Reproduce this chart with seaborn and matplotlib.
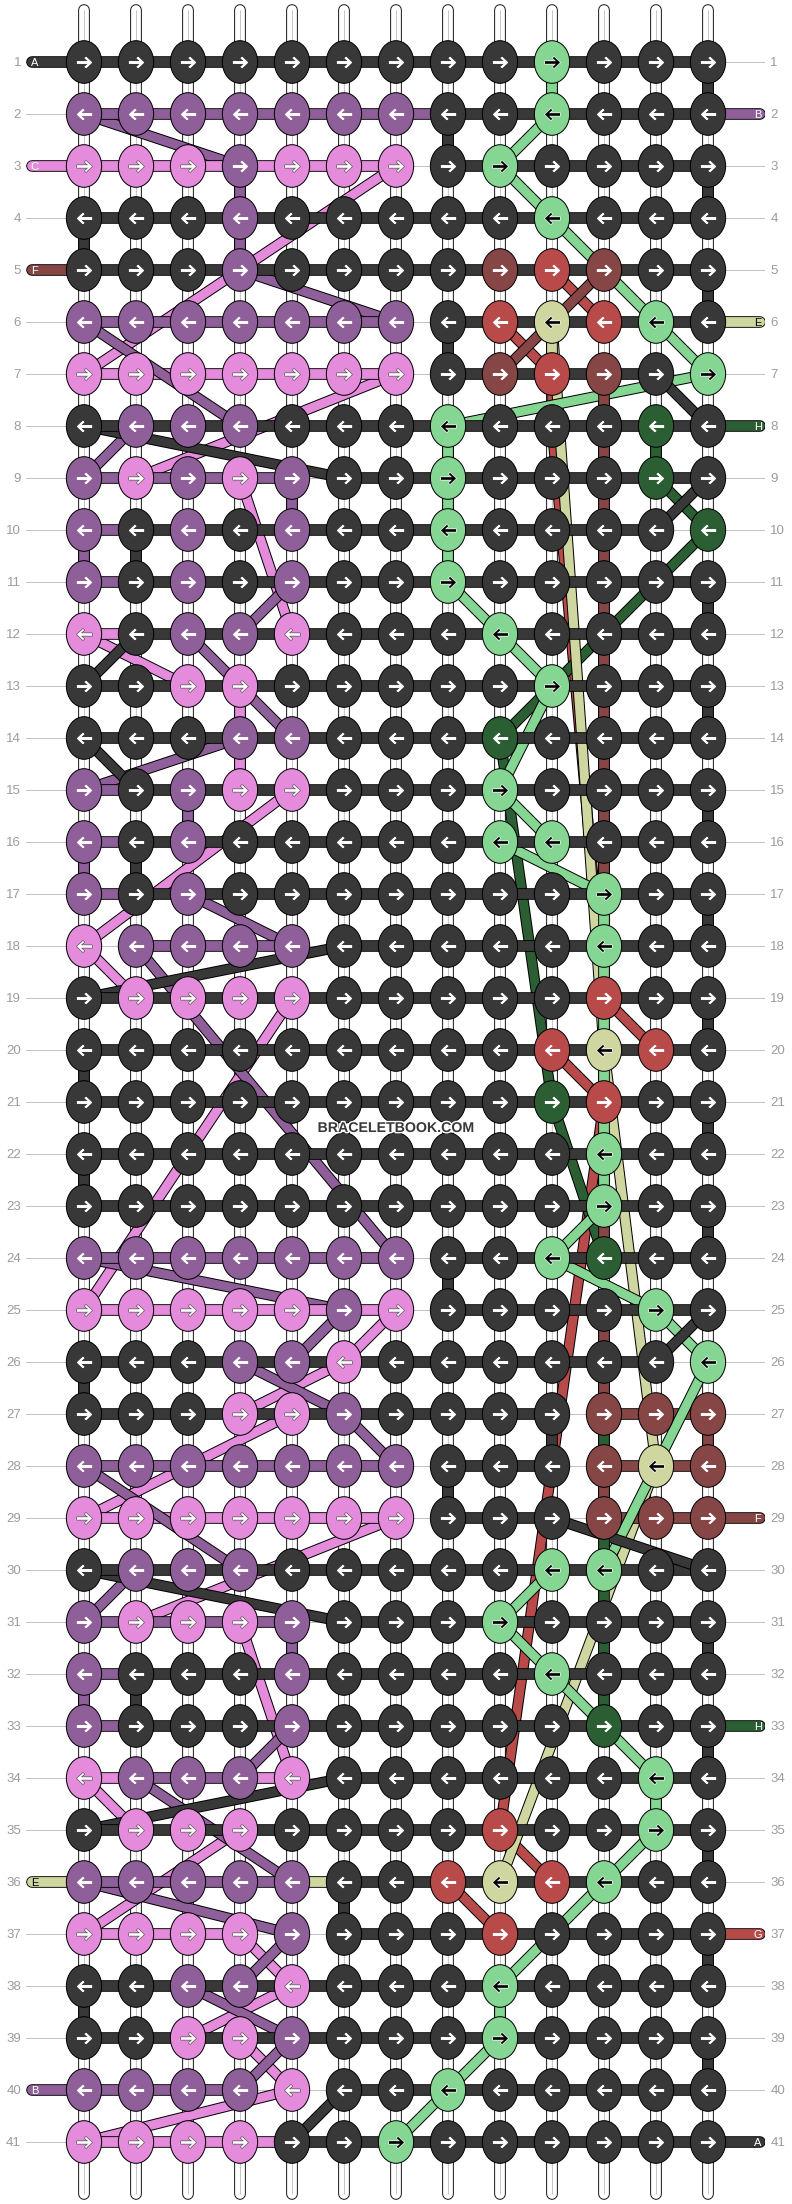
import matplotlib
matplotlib.use("Agg")
import matplotlib.pyplot as plt
import matplotlib.patheffects as pe
from matplotlib.path import Path
from matplotlib.transforms import Affine2D
import numpy as np
import pandas as pd
import seaborn as sns

# ---------- data ----------
colours = {".": "#383838", "P": "#8f5f99", "C": "#e58bdb", "F": "#874646",
           "R": "#b84a4a", "K": "#d0d6a0", "L": "#86d693", "H": "#2b5f33"}
row_numbers = list(range(1, 42))
node_rows = [
    ".........L...", "PPPPPPP..L...", "CCCPCCC.L....", "...P.....L...", "...P....FRF..",
    "PPPPPPP.RKRL.", "CCCCCCC.FRF.L", ".PPP...L...H.", "PCPCP..L...H.", "P.P.P..L....H",
    "P.P.P..L.....", "C.PPC...L....", "..CC.....L...", "...PP...H....", "P.PCC...L....",
    "P.P.....LL...", "P.P.......L..", "CPPPP.....L..", ".CCCC.....R..", ".........RKR.",
    ".........HR..", "..........L..", "..........L..", "PPPPPPP..LH..", "CCCCCPC....L.",
    "...PPC......L", "...CCP....FFF", "PPPPPPP...FKF", "CCCCCCC...FFF", ".PPP.....LL..",
    "PCCCP...L....", "P...P....L...", "P...P.....H..", "CPPPC......L.", ".CCC....R..L.",
    "PPPPP..RKRL..", "CCCCP...R....", "..PPC...L....", "..CCP...L....", "PPPPC..L.....",
    "CCCC..L......",
]
D12 = "............"
link_rows = [
    D12, "PPPPPPP.....", "CCCCCC_.....", D12, D12,
    "PPPPPP_.....", "CCCCCC_...._", D12, "PPPP_.......", "P.........._",
    "P...........", "C...........", D12, D12, "P...........",
    "P...........", "P...........", "_PPP_.......", D12, D12,
    D12, D12, D12, "PPPPPP_.....", "CCCCCC_.....",
    "..........._", "........._FF", "PPPPPP_.._FF", "CCCCCC_.._FF", D12,
    "PPPP_.......", "P...........", "P...........", "CPPC_.......", D12,
    "PPPPK.......", "CCC__.......", D12, D12, "PPP__.......",
    "CCCC........",
]
left_ends = [(1, "A", "."), (3, "C", "C"), (5, "F", "F"), (36, "E", "K"), (40, "B", "P")]
right_ends = [(2, "B", "P"), (6, "E", "K"), (8, "H", "H"), (29, "F", "F"),
              (33, "H", "H"), (37, "G", "R"), (41, "A", ".")]
vertical_links = {
    ".": [(12, 1), (7, 2), (12, 3), (0, 4), (12, 5), (7, 6), (1, 10), (12, 11), (12, 13),
          (12, 15), (1, 16), (12, 17), (12, 19), (0, 20), (12, 21), (0, 22),
          (12, 23), (7, 24), (0, 26), (9, 27), (7, 28), (12, 31), (1, 32), (12, 33),
          (12, 35), (5, 36), (12, 37), (0, 38), (12, 39)],
    "P": [(3, 3), (3, 4), (4, 9), (0, 10), (2, 15), (0, 16), (4, 31), (0, 32)],
    "C": [(3, 13), (3, 14)],
    "F": [(10, 7), (10, 8), (10, 9), (10, 10), (10, 11), (10, 12), (10, 13), (10, 14),
          (10, 15), (10, 16), (10, 23), (10, 25), (10, 26), (12, 27), (10, 28)],
    "K": [(9, 6)],
    "L": [(9, 1), (7, 8), (7, 9), (7, 10), (10, 17), (10, 18), (10, 19), (10, 20),
          (10, 21), (10, 22), (11, 34), (8, 38)],
    "H": [(11, 8), (10, 27), (10, 29), (10, 30), (10, 31), (10, 32)],
}
threads_red = [[(9, 5), (10, 6)], [(8, 6), (9, 7)], [(9, 7), (9, 8), (10, 19)], [(10, 19), (11, 20)],
               [(9, 20), (10, 21)], [(10, 21), (8, 35)], [(8, 35), (9, 36)], [(7, 36), (8, 37)]]
threads_brown = [[(10, 5), (8, 7)]]
threads_darkgreen = [[(11, 9), (12, 10)], [(12, 10), (8, 14)], [(8, 14), (9, 21)], [(9, 21), (10, 24)]]
threads_khaki = [[(9, 6), (10, 20)], [(10, 20), (11, 28)], [(11, 28), (8, 36)]]
threads_light = [[(9, 2), (8, 3)], [(8, 3), (9, 4)], [(9, 4), (11, 6)], [(11, 6), (12, 7)], [(12, 7), (7, 8)],
                 [(7, 11), (8, 12)], [(8, 12), (9, 13)], [(9, 13), (8, 15)], [(8, 15), (9, 16)],
                 [(8, 16), (10, 17)], [(10, 23), (9, 24)], [(9, 24), (11, 25)], [(11, 25), (12, 26)],
                 [(9, 30), (8, 31)], [(8, 31), (11, 34)], [(11, 35), (10, 36)],
                 [(10, 36), (8, 38)], [(8, 39), (6, 41)]]
threads_pink = [[(6, 3), (0, 7)], [(6, 7), (1, 9)], [(3, 9), (4, 12)], [(0, 12), (2, 13)], [(4, 15), (0, 18)],
                [(0, 18), (1, 19)], [(4, 19), (0, 25)], [(6, 25), (5, 26)], [(5, 26), (3, 27)], [(4, 27), (0, 29)],
                [(6, 29), (1, 31)], [(3, 31), (4, 34)], [(0, 34), (1, 35)], [(3, 35), (0, 37)], [(3, 37), (4, 38)],
                [(4, 38), (2, 39)], [(3, 39), (4, 40)], [(4, 40), (0, 41)]]
threads_purple = [[(0, 2), (3, 3)], [(3, 5), (6, 6)], [(1, 8), (0, 9)], [(4, 11), (3, 12)],
                  [(2, 12), (4, 14)], [(3, 14), (0, 15)], [(2, 17), (4, 18)], [(1, 18), (6, 24)], [(0, 24), (5, 25)],
                  [(5, 25), (4, 26)], [(3, 26), (5, 27)], [(5, 27), (6, 28)], [(1, 30), (0, 31)],
                  [(4, 33), (3, 34)], [(1, 34), (4, 36)], [(0, 36), (4, 37)], [(4, 37), (3, 38)], [(2, 38), (4, 39)],
                  [(4, 39), (3, 40)]]
threads_dark = [[(0, 8), (5, 9)], [(1, 12), (0, 13)], [(0, 14), (1, 15)], [(0, 19), (5, 18)], [(0, 30), (5, 31)],
                [(0, 35), (5, 34)], [(4, 41), (5, 40)], [(11, 7), (12, 8)], [(12, 9), (11, 10)], [(12, 25), (11, 26)]]
thread_groups = [("R", threads_red), ("H", threads_darkgreen), ("K", threads_khaki), ("F", threads_brown),
                 ("L", threads_light), ("C", threads_pink), ("P", threads_purple), (".", threads_dark)]
# threads that pass over the horizontal links
threads_over_purple = [[(0, 6), (3, 8)], [(0, 28), (3, 30)]]
threads_over_light = [[(12, 26), (10, 30)]]
threads_over_dark = [[(9, 29), (12, 30)]]
watermark = "BRACELETBOOK.COM"

# ---------- figure ----------
sns.set_theme(style="white")
plt.rcParams["font.family"] = ["Liberation Sans", "DejaVu Sans"]
PX = 0.72
W, H = 792, 2204
fig = plt.figure(figsize=(W / 100, H / 100), dpi=100, facecolor="white")
ax = fig.add_axes([26 / W, 0, (765 - 26) / W, 1])
ax.set_xlim((26 - 84) / 52, (765 - 84) / 52)
ax.set_ylim(1 + (H - 62) / 52, 1 - 62 / 52)
ax.set_facecolor("white")
label_grey = "#9c9c9c"
ax.set_yticks(row_numbers)
ax.set_xticks([])
ax.tick_params(axis="y", length=0, pad=5 * PX, labelsize=9.5, labelcolor=label_grey)
ax.grid(axis="y", color="#c4c4c4", linewidth=1 * PX)
ax.set_axisbelow(True)
ax2 = ax.twinx()
ax2.set_ylim(ax.get_ylim())
ax2.set_yticks(row_numbers)
ax2.grid(False)
ax2.tick_params(axis="y", length=0, pad=5.4 * PX, labelsize=9.5, labelcolor=label_grey)
for a in (ax, ax2):
    for s in a.spines.values():
        s.set_visible(False)


def frame(paths):
    rows = []
    for i, (code, pts) in enumerate(paths):
        for c, r in pts:
            rows.append({"strand": i, "code": code, "col": c, "row": r})
    return pd.DataFrame(rows)


def draw(paths, inner, outer, z, cap="butt"):
    df = frame(paths)
    order = list(dict.fromkeys(code for code, _ in paths))
    sns.lineplot(data=df, x="col", y="row", hue="code", hue_order=order, palette=colours,
                 units="strand", estimator=None, sort=False, legend=False, ax=ax,
                 linewidth=inner * PX, solid_capstyle=cap, solid_joinstyle="round", zorder=z,
                 path_effects=[pe.withStroke(linewidth=outer * PX, foreground="black")])
    ax.set_xlabel("")
    ax.set_ylabel("")


cols = list(range(13))
warp = pd.DataFrame([{"strand": c, "col": c, "row": r} for c in cols for r in (0, 42)])
sns.lineplot(data=warp, x="col", y="row", units="strand", estimator=None, sort=False, legend=False,
             ax=ax, color="white", linewidth=9.8 * PX, solid_capstyle="round", zorder=1,
             path_effects=[pe.withStroke(linewidth=11.6 * PX, foreground="black")])
sns.lineplot(data=warp, x="col", y="row", units="strand", estimator=None, sort=False, legend=False,
             ax=ax, color="#c8c8c8", linewidth=1 * PX, solid_capstyle="butt", zorder=1.1)

draw([(code, pts) for code, group in thread_groups for pts in group], 9, 11, 2)

h_paths = []
for r, links in zip(row_numbers, link_rows):
    for c, code in enumerate(links):
        if code != "_":
            h_paths.append((code, [(c, r), (c + 1, r)]))
draw(h_paths, 9.8, 11.6, 3)
draw([("P", pts) for pts in threads_over_purple] + [("L", pts) for pts in threads_over_light] +
     [(".", pts) for pts in threads_over_dark], 9, 11, 3.2)
v_paths = [(code, [(c, r), (c, r + 1)]) for code, items in vertical_links.items() for c, r in items]
draw(v_paths, 9.8, 11.6, 3.5)
end_paths = [(code, [(-1, r), (0, r)]) for r, _, code in left_ends] + \
            [(code, [(13, r), (12, r)]) for r, _, code in right_ends]
draw(end_paths, 9.8, 11.6, 3.6, cap="round")

for r, letter, code in left_ends:
    ax.text(-0.945, r, letter, ha="center", va="center_baseline", fontsize=8, zorder=6,
            color="black" if code == "K" else "white")
for r, letter, code in right_ends:
    ax.text(12.96, r, letter, ha="center", va="center_baseline", fontsize=8, zorder=6,
            color="black" if code == "K" else "white")

nodes = pd.DataFrame([{"col": c, "row": r, "code": code}
                      for r, line in zip(row_numbers, node_rows) for c, code in enumerate(line)])
ellipse = Path.unit_circle().transformed(Affine2D().scale(17.4, 21))
sns.scatterplot(data=nodes, x="col", y="row", hue="code", palette=colours, marker=ellipse,
                s=(42.6 * PX) ** 2, edgecolor="black", linewidth=1 * PX, legend=False, ax=ax,
                zorder=5)
ax.set_xlabel("")
ax.set_ylabel("")

arrow_r = Path([(-7.5, 1.3), (3.6, 1.3), (0.2, 4.4), (1.6, 5.6), (7.5, 0), (1.6, -5.6), (0.2, -4.4),
                (3.6, -1.3), (-7.5, -1.3), (-7.5, 1.3)], closed=True)
arrow_l = arrow_r.transformed(Affine2D().scale(-1, 1))
nodes["right"] = nodes["row"] % 2 == 1
nodes["style"] = nodes["code"].map(lambda c: "black" if c in "LK" else ("edge" if c == "C" else "white"))
# face colour, halo colour, halo width in points
looks = {"black": ("black", "white", 1.0), "edge": ("white", "#444444", 0.9), "white": ("white", "white", 0.1)}
for style, (face, halo, lw) in looks.items():
    for right, marker in ((True, arrow_r), (False, arrow_l)):
        part = nodes[(nodes["style"] == style) & (nodes["right"] == right)]
        if len(part):
            sns.scatterplot(data=part, x="col", y="row", color=halo, marker=marker, s=(15 * PX) ** 2,
                            edgecolor=halo, linewidth=lw, legend=False, ax=ax, zorder=5.4)
            sns.scatterplot(data=part, x="col", y="row", color=face, marker=marker, s=(15 * PX) ** 2,
                            edgecolor=face, linewidth=0.1, legend=False, ax=ax, zorder=5.5)
ax.set_xlabel("")
ax.set_ylabel("")

ax.text(6, 21.5, watermark, ha="center", va="center", fontsize=10.2, fontweight="bold",
        color="#383838", zorder=7, path_effects=[pe.withStroke(linewidth=2, foreground="white")])

fig.savefig("out.png", dpi=100, facecolor="white")
